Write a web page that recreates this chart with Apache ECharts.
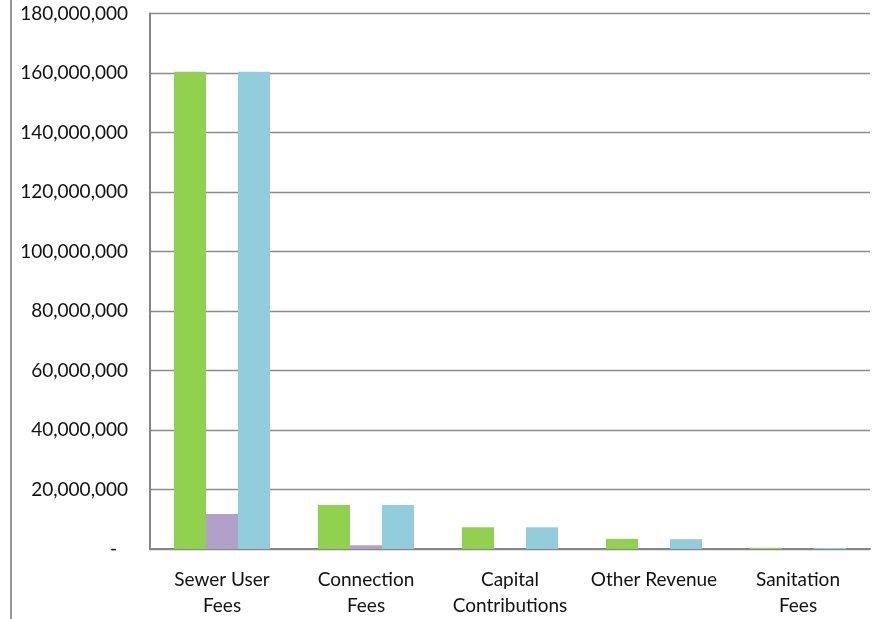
<!DOCTYPE html>
<html>
<head>
<meta charset="utf-8">
<script src="https://cdn.jsdelivr.net/npm/echarts@6/dist/echarts.min.js"></script>
<style>html,body{margin:0;padding:0;background:#fff}#c{width:880px;height:619px}</style>
</head>
<body>
<div id="c"></div>
<script>
var categories = ['Sewer User\nFees', 'Connection\nFees', 'Capital\nContributions', 'Other Revenue', 'Sanitation\nFees'];
var seriesA = [160400000, 14800000, 7300000, 3400000, 400000];
var seriesB = [11800000, 1250000, 0, 0, 0];
var seriesC = [160400000, 14800000, 7300000, 3300000, 350000];
var yMin = 0, yMax = 180000000, yInterval = 20000000;

var chart = echarts.init(document.getElementById('c'));
var font = 'Lato, "Open Sans", sans-serif';
function fmt(v) {
  if (v === 0) return '{z|-}';
  return v.toString().replace(/\B(?=(\d{3})+(?!\d))/g, ',');
}
chart.setOption({
  animation: false,
  grid: { left: 150, right: 10, top: 13.5, bottom: 67, containLabel: false },
  graphic: [{
    type: 'line', shape: { x1: 11, y1: 0, x2: 11, y2: 619 },
    style: { stroke: '#999', lineWidth: 2 }
  }],
  xAxis: {
    type: 'category', data: categories,
    axisLine: { lineStyle: { color: '#868686', width: 2 } },
    axisTick: { show: false },
    axisLabel: { color: '#111', fontSize: 19, fontFamily: font, margin: 18, lineHeight: 26, interval: 0 }
  },
  yAxis: {
    type: 'value', min: yMin, max: yMax, interval: yInterval,
    axisLine: { show: true, lineStyle: { color: '#868686', width: 2 } },
    axisTick: { show: false },
    splitLine: { lineStyle: { color: '#8c8c8c', width: 1.3 } },
    axisLabel: {
      color: '#111', fontSize: 19, fontFamily: font, margin: 22,
      formatter: fmt,
      rich: { z: { padding: [0, 11, 0, 0], fontSize: 19, color: '#111' } }
    }
  },
  series: [
    { type: 'bar', data: seriesA, barWidth: 32, barGap: '0%', itemStyle: { color: '#92D050' } },
    { type: 'bar', data: seriesB, barWidth: 32, barGap: '0%', itemStyle: { color: '#B1A0C7' } },
    { type: 'bar', data: seriesC, barWidth: 32, barGap: '0%', itemStyle: { color: '#92CDDC' } }
  ]
});
</script>
</body>
</html>
